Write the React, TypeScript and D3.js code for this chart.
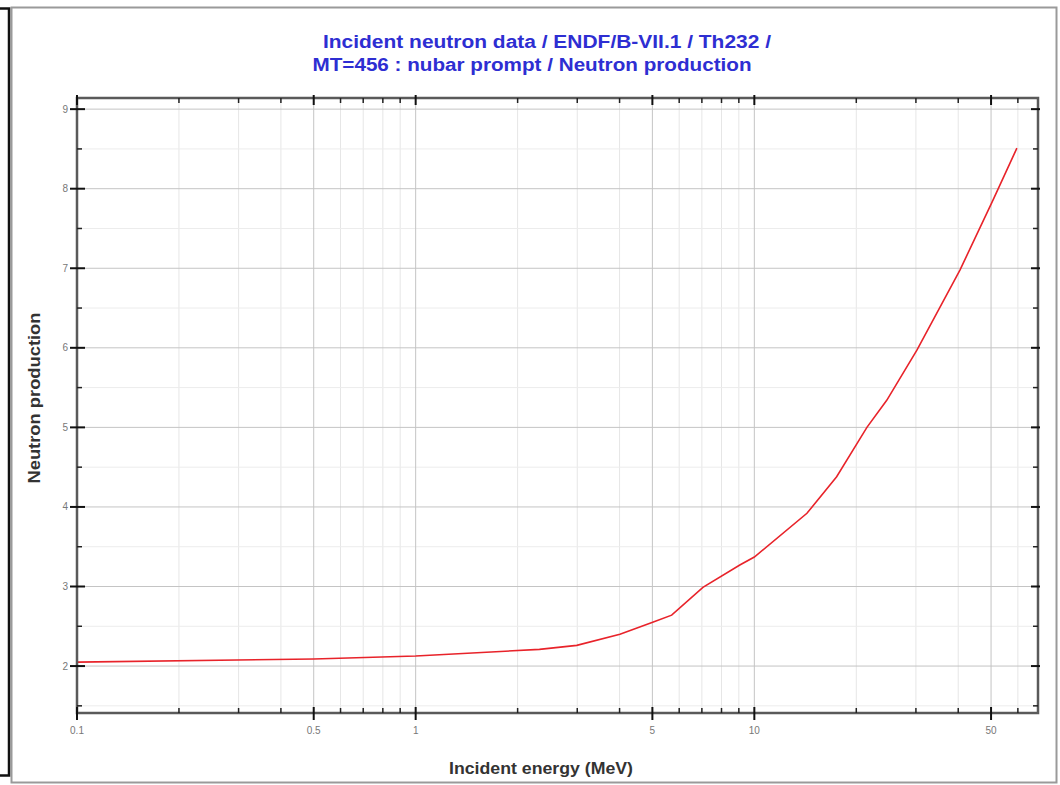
import * as d3 from 'd3';

// nubar prompt, Th232, ENDF/B-VII.1
const energy = [0.1, 0.5, 1, 2.32, 2.99, 4.01, 5.01, 5.7, 7.05, 9.06, 10.0, 14.3, 17.5, 21.5, 24.6, 30.2, 40.5, 50.7, 59.6];
const nubar = [2.05, 2.088, 2.126, 2.21, 2.26, 2.4, 2.55, 2.64, 2.99, 3.27, 3.37, 3.92, 4.38, 5.0, 5.34, 5.97, 6.98, 7.86, 8.51];

const xTickValues = [0.1, 0.5, 1, 5, 10, 50];
const xTickLabels = ['0.1', '0.5', '1', '5', '10', '50'];
const xMinorValues = [0.2, 0.3, 0.4, 0.6, 0.7, 0.8, 0.9, 2, 3, 4, 6, 7, 8, 9, 20, 30, 40, 60];
const yTickValues = [2, 3, 4, 5, 6, 7, 8, 9];
const yMinorValues = [1.5, 2.5, 3.5, 4.5, 5.5, 6.5, 7.5, 8.5];

const titleLines = ['Incident neutron data / ENDF/B-VII.1 / Th232 /', 'MT=456 : nubar prompt / Neutron production'];

const W = 1060;
const H = 785;
const plot = { left: 77, right: 1038, top: 98, bottom: 713 };

export default function App() {
  const x = d3.scaleLog().domain([0.1, 68.8]).range([plot.left, plot.right]);
  const y = d3.scaleLinear().domain([1.41, 9.14]).range([plot.bottom, plot.top]);

  const line = d3
    .line<number>()
    .x((d, i) => x(energy[i]))
    .y((d) => y(d));

  const font = 'Arial, "Liberation Sans", sans-serif';

  return (
    <div style={{ position: 'absolute', left: 0, top: 0 }}>
      <svg width={W} height={H} style={{ display: 'block', background: '#fff' }}>
        {/* outer frame */}
        <rect x={11.5} y={7.5} width={1045} height={775} fill="#fff" stroke="#9a9a9a" strokeWidth={2} />
        {/* black bracket on the left */}
        <path d="M0,8.5 H9 V775.5 H0" fill="none" stroke="#111" strokeWidth={2.5} />

        {/* title */}
        <text x={547} y={48} textAnchor="middle" fill="#2e2ed2" fontFamily={font} fontWeight="bold" fontSize={18}
          textLength={448} lengthAdjust="spacingAndGlyphs">
          {titleLines[0]}
        </text>
        <text x={532} y={71} textAnchor="middle" fill="#2e2ed2" fontFamily={font} fontWeight="bold" fontSize={18}
          textLength={439} lengthAdjust="spacingAndGlyphs">
          {titleLines[1]}
        </text>

        {/* minor grid */}
        {xMinorValues.map((v) => (
          <line key={'xm' + v} x1={x(v)} x2={x(v)} y1={plot.top} y2={plot.bottom} stroke="#e6e6e6" strokeWidth={1} />
        ))}
        {yMinorValues.map((v) => (
          <line key={'ym' + v} x1={plot.left} x2={plot.right} y1={y(v)} y2={y(v)} stroke="#ececec" strokeWidth={1} />
        ))}
        {/* major grid */}
        {xTickValues.slice(1).map((v) => (
          <line key={'xg' + v} x1={x(v)} x2={x(v)} y1={plot.top} y2={plot.bottom} stroke="#c4c4c4" strokeWidth={1} />
        ))}
        {yTickValues.map((v) => (
          <line key={'yg' + v} x1={plot.left} x2={plot.right} y1={y(v)} y2={y(v)} stroke="#c4c4c4" strokeWidth={1} />
        ))}

        {/* curve */}
        <path d={line(nubar) || ''} fill="none" stroke="#e8232a" strokeWidth={1.6} />

        {/* frame */}
        <rect
          x={plot.left}
          y={plot.top}
          width={plot.right - plot.left}
          height={plot.bottom - plot.top}
          fill="none"
          stroke="#5a5a5a"
          strokeWidth={2.5}
        />

        {/* x ticks */}
        {xMinorValues.map((v) => (
          <g key={'xt' + v} stroke="#222" strokeWidth={1.5}>
            <line x1={x(v)} x2={x(v)} y1={plot.bottom} y2={plot.bottom - 5} />
            <line x1={x(v)} x2={x(v)} y1={plot.top} y2={plot.top + 5} />
          </g>
        ))}
        {xTickValues.map((v, i) => (
          <g key={'xT' + v}>
            <line x1={x(v)} x2={x(v)} y1={plot.bottom - 6} y2={plot.bottom + 7} stroke="#111" strokeWidth={2} />
            <line x1={x(v)} x2={x(v)} y1={plot.top - 3} y2={plot.top + 7} stroke="#111" strokeWidth={2} />
            <text x={x(v)} y={plot.bottom + 21} textAnchor="middle" fill="#777" fontFamily={font} fontSize={10}>
              {xTickLabels[i]}
            </text>
          </g>
        ))}

        {/* y ticks */}
        {yMinorValues.map((v) => (
          <g key={'yt' + v} stroke="#222" strokeWidth={1.5}>
            <line x1={plot.left} x2={plot.left + 5} y1={y(v)} y2={y(v)} />
            <line x1={plot.right} x2={plot.right - 5} y1={y(v)} y2={y(v)} />
          </g>
        ))}
        {yTickValues.map((v) => (
          <g key={'yT' + v}>
            <line x1={plot.left - 7} x2={plot.left + 8} y1={y(v)} y2={y(v)} stroke="#111" strokeWidth={2} />
            <line x1={plot.right - 7} x2={plot.right + 2} y1={y(v)} y2={y(v)} stroke="#111" strokeWidth={2} />
            <text x={plot.left - 9} y={y(v) + 3.5} textAnchor="end" fill="#777" fontFamily={font} fontSize={10}>
              {v}
            </text>
          </g>
        ))}

        {/* axis titles */}
        <text x={541} y={774} textAnchor="middle" fill="#333" fontFamily={font} fontWeight="bold" fontSize={16}
          textLength={184} lengthAdjust="spacingAndGlyphs">
          Incident energy (MeV)
        </text>
        <text
          transform="translate(40,398) rotate(-90)"
          textAnchor="middle"
          fill="#333"
          fontFamily={font}
          fontWeight="bold"
          fontSize={16}
          textLength={171}
          lengthAdjust="spacingAndGlyphs"
        >
          Neutron production
        </text>
      </svg>
    </div>
  );
}
